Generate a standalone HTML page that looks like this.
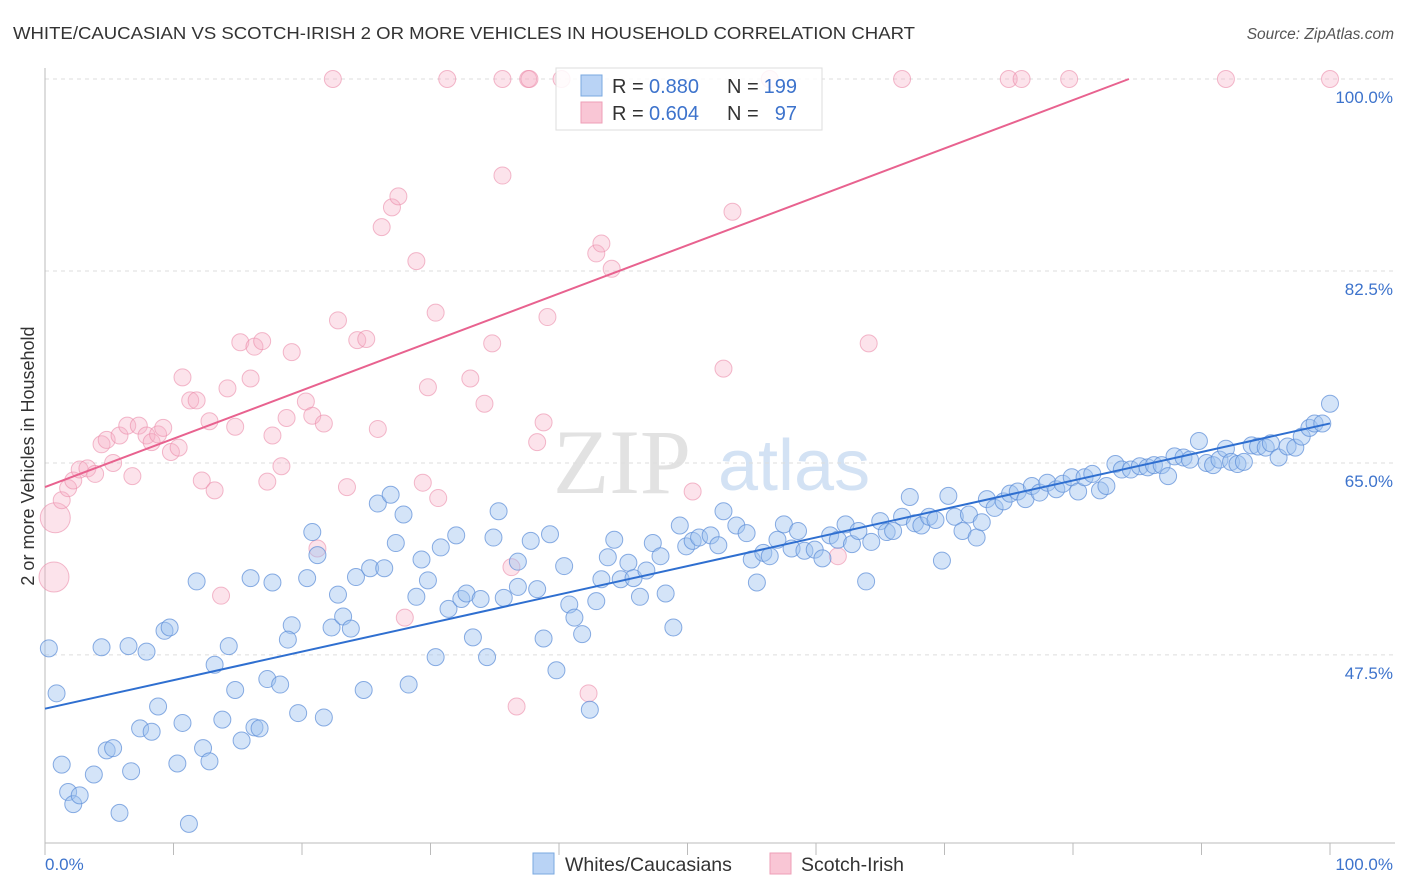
<!DOCTYPE html>
<html><head><meta charset="utf-8"><style>
body{margin:0;background:#fff;font-family:"Liberation Sans",sans-serif;}
svg{display:block}
</style></head><body>
<svg id="chart" width="1406" height="892" xmlns="http://www.w3.org/2000/svg">
<text x="13" y="39" font-size="17.5" fill="#333" textLength="902" lengthAdjust="spacingAndGlyphs">WHITE/CAUCASIAN VS SCOTCH-IRISH 2 OR MORE VEHICLES IN HOUSEHOLD CORRELATION CHART</text>
<text x="1394" y="39" font-size="15.5" fill="#555" font-style="italic" text-anchor="end">Source: ZipAtlas.com</text>
<g>
<text x="553" y="493" font-size="92" fill="#e2e2e2" font-family="Liberation Serif,serif">ZIP</text>
<text x="718" y="490" font-size="72" fill="#d3e2f4">atlas</text>
</g>
<g id="grid"></g><g id="axes"></g><g id="marks"></g>
<text transform="translate(34,456) rotate(-90)" font-size="18" fill="#333" text-anchor="middle">2 or more Vehicles in Household</text>
<g>
<rect x="556" y="68" width="266" height="62" fill="#fff" fill-opacity="0.85" stroke="#ddd"/>
<rect x="581" y="75" width="21" height="21" fill="#b9d3f5" stroke="#7aa8e0"/>
<text x="612" y="93" font-size="20" fill="#333">R =</text>
<text x="649" y="93" font-size="20" fill="#3d73cc">0.880</text>
<text x="727" y="93" font-size="20" fill="#333">N =</text>
<text x="797" y="93" font-size="20" fill="#3d73cc" text-anchor="end">199</text>
<rect x="581" y="102" width="21" height="21" fill="#f9c6d5" stroke="#ee9fb7"/>
<text x="612" y="120" font-size="20" fill="#333">R =</text>
<text x="649" y="120" font-size="20" fill="#3d73cc">0.604</text>
<text x="727" y="120" font-size="20" fill="#333">N =</text>
<text x="797" y="120" font-size="20" fill="#3d73cc" text-anchor="end">97</text>
</g>
<g>
<rect x="533" y="853" width="21" height="21" fill="#b9d3f5" stroke="#7aa8e0"/>
<text x="565" y="871" font-size="19.5" fill="#333">Whites/Caucasians</text>
<rect x="770" y="853" width="21" height="21" fill="#f9c6d5" stroke="#ee9fb7"/>
<text x="801" y="871" font-size="19.5" fill="#333">Scotch-Irish</text>
</g>
</svg>
<script>
const yTicks=[100,82.5,65,47.5];
const yTickLabels=["100.0%","82.5%","65.0%","47.5%"];
const xTicks=[0,10,20,30,40,50,60,70,80,90,100];
const blueX=[0.3,0.9,1.3,1.8,2.2,2.7,3.8,4.4,4.8,5.3,5.8,6.5,6.7,7.4,7.9,8.3,8.8,9.3,9.7,10.3,10.7,11.2,11.8,12.3,12.8,13.2,13.8,14.3,14.8,15.3,16.0,16.3,16.7,17.3,17.7,18.3,19.7,19.2,18.9,20.4,20.8,21.2,21.7,22.3,22.8,23.2,23.8,24.2,24.8,25.3,25.9,26.4,26.9,27.3,27.9,28.3,28.9,29.3,29.8,30.4,30.8,31.4,32.0,32.4,32.8,33.3,33.9,34.4,34.9,35.3,35.7,36.8,36.8,37.8,38.3,38.8,39.3,39.8,40.4,40.8,41.2,41.8,42.4,42.9,43.3,43.8,44.3,44.8,45.4,45.8,46.3,46.8,47.3,47.9,48.3,48.9,49.4,49.9,50.4,50.9,51.8,52.4,52.8,53.8,54.6,55.0,55.4,55.9,56.4,57.0,57.5,58.1,58.6,59.1,59.9,60.5,61.1,61.7,62.3,62.8,63.3,63.9,64.3,65.0,65.5,66.0,66.7,67.3,67.7,68.2,68.8,69.3,69.8,70.3,70.8,71.4,71.9,72.5,72.9,73.3,73.9,74.6,75.1,75.7,76.3,76.8,77.4,78.0,78.7,79.2,79.9,80.4,80.9,81.5,82.1,82.6,83.3,83.8,84.5,85.2,85.8,86.3,86.9,87.4,87.9,88.6,89.1,89.8,90.4,90.9,91.4,91.9,92.3,92.8,93.3,93.9,94.4,95.0,95.4,96.0,96.7,97.3,97.8,98.4,98.8,99.4,100];
const blueY=[48.1,44.0,37.5,35.0,33.9,34.7,36.6,48.2,38.8,39.0,33.1,48.3,36.9,40.8,47.8,40.5,42.8,49.7,50.0,37.6,41.3,32.1,54.2,39.0,37.8,46.6,41.6,48.3,44.3,39.7,54.5,40.9,40.8,45.3,54.1,44.8,42.2,50.2,48.9,54.5,58.7,56.6,41.8,50.0,53.0,51.0,49.9,54.6,44.3,55.4,61.3,55.4,62.1,57.7,60.3,44.8,52.8,56.2,54.3,47.3,57.3,51.7,58.4,52.6,53.1,49.1,52.6,47.3,58.2,60.6,52.7,53.7,56.0,57.9,53.5,49.0,58.5,46.1,55.6,52.1,50.9,49.4,42.5,52.4,54.4,56.4,58.0,54.4,55.9,54.5,52.8,55.2,57.7,56.5,53.1,50.0,59.3,57.4,57.9,58.2,58.4,57.5,60.6,59.3,58.6,56.2,54.1,56.8,56.5,58.0,59.4,57.2,58.8,57.0,57.1,56.3,58.4,58.0,59.4,57.6,58.8,54.2,57.8,59.7,58.7,58.8,60.1,61.9,59.5,59.3,60.1,59.8,56.1,62.0,60.1,58.8,60.3,58.2,59.6,61.7,60.9,61.5,62.2,62.4,61.7,62.9,62.3,63.2,62.6,63.1,63.7,62.4,63.7,64.0,62.5,62.9,64.9,64.4,64.4,64.7,64.6,64.8,64.8,63.8,65.6,65.5,65.3,67.0,65.0,64.8,65.3,66.3,65.1,64.9,65.1,66.6,66.5,66.4,66.8,65.5,66.5,66.4,67.4,68.2,68.6,68.6,70.4];
const pinkX=[0.8,0.7,1.3,1.8,2.2,2.7,3.3,3.9,4.4,4.8,5.3,5.8,6.4,6.8,7.3,7.9,8.3,8.8,9.2,9.8,10.4,10.7,11.3,11.8,12.2,12.8,13.2,13.7,14.2,14.8,15.2,16.0,16.3,16.9,17.3,17.7,18.4,18.8,19.2,20.3,20.8,21.2,21.7,22.8,23.5,24.3,25.0,25.9,26.2,27.0,27.5,28.0,28.9,29.4,29.8,30.4,30.6,33.1,34.2,34.8,35.6,36.3,36.7,38.3,38.8,39.1,42.3,42.9,43.3,44.1,50.4,52.8,53.5,61.7,64.1,22.4,31.3,35.6,37.6,37.7,40.2,56.4,66.7,75.0,76.0,79.7,91.9,100];
const pinkY=[60.0,54.6,61.6,62.7,63.4,64.4,64.5,64.0,66.7,67.1,65.0,67.5,68.4,63.8,68.4,67.5,66.9,67.6,68.2,66.0,66.4,72.8,70.7,70.7,63.4,68.8,62.5,52.9,71.8,68.3,76.0,72.7,75.6,76.1,63.3,67.5,64.7,69.1,75.1,70.6,69.3,57.2,68.6,78.0,62.8,76.2,76.3,68.1,86.5,88.3,89.3,50.9,83.4,63.2,71.9,78.7,61.8,72.7,70.4,75.9,91.2,55.5,42.8,66.9,68.7,78.3,44.0,84.1,85.0,82.7,62.4,73.6,87.9,56.5,75.9,100,100,100,100,100,100,100,100,100,100,100,100,100];
const pinkBig=[1,1];
const blueLine=[42.6,68.6];
const pinkLine=[62.8,0.441];

const NS="http://www.w3.org/2000/svg";
const X=v=>45+v*12.85;
const Y=v=>79+(100-v)*10.97;
function mk(tag,attrs,parent){const e=document.createElementNS(NS,tag);for(const k in attrs)e.setAttribute(k,attrs[k]);parent.appendChild(e);return e;}
const grid=document.getElementById('grid'),axes=document.getElementById('axes'),marks=document.getElementById('marks');
yTicks.forEach((t,i)=>{
 const l=mk('line',{x1:45,x2:1395,y1:Y(t),y2:Y(t),stroke:'#ddd','stroke-dasharray':'4,4'},grid);
 
 
 const tx=mk('text',{x:1393,y:Y(t)+24,'font-size':17,fill:'#3d73cc','text-anchor':'end'},axes);
 tx.textContent=yTickLabels[i];
 
 
});
let a=mk('line',{x1:45,x2:45,y1:68,y2:843,stroke:'#bbb'},axes);


a=mk('line',{x1:45,x2:1395,y1:843,y2:843,stroke:'#bbb'},axes);


xTicks.forEach(t=>{
 const l=mk('line',{x1:X(t),x2:X(t),y1:843,y2:855,stroke:'#bbb'},axes);
 
 
});
let t0=mk('text',{x:45,y:870,'font-size':17,fill:'#3d73cc'},axes);t0.textContent='0.0%';


let t1=mk('text',{x:1393,y:870,'font-size':17,fill:'#3d73cc','text-anchor':'end'},axes);t1.textContent='100.0%';


pinkX.forEach((x,i)=>{
 const r=i<pinkBig.length?15:8.5;
 const c=mk('circle',{cx:X(x),cy:Y(pinkY[i]),r:r,fill:'rgba(246,176,198,0.35)',stroke:'rgba(235,140,170,0.6)'},marks);
 
 
});
blueX.forEach((x,i)=>{
 const c=mk('circle',{cx:X(x),cy:Y(blueY[i]),r:8.5,fill:'rgba(160,196,240,0.45)',stroke:'rgba(90,140,215,0.7)'},marks);
 
 
});
let bl=mk('line',{x1:X(0),y1:Y(blueLine[0]),x2:X(100),y2:Y(blueLine[1]),stroke:'#2f6fd0','stroke-width':2},marks);


const pEnd=(100-pinkLine[0])/pinkLine[1];
let pl=mk('line',{x1:X(0),y1:Y(pinkLine[0]),x2:X(pEnd),y2:Y(100),stroke:'#e8628f','stroke-width':2},marks);


</script>
</body></html>
